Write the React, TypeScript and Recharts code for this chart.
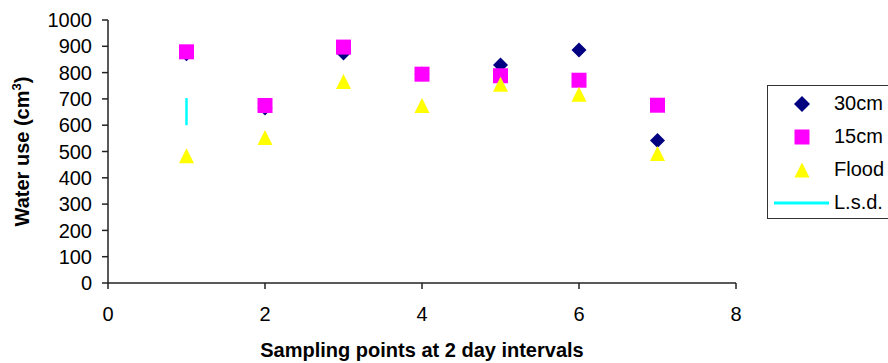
import React from 'react';
import { ScatterChart, Scatter, XAxis, YAxis } from 'recharts';

const sampling = [1, 2, 3, 4, 5, 6, 7];
const use30cm = [872, 665, 875, 795, 829, 886, 542];
const use15cm = [879, 675, 897, 794, 788, 771, 676];
const useFlood = [484, 553, 766, 675, 756, 718, 492];
const lsdX = [1, 1];
const lsdY = [600, 703];
const xTicks = [0, 2, 4, 6, 8];
const yTicks = [0, 100, 200, 300, 400, 500, 600, 700, 800, 900, 1000];
const seriesNames = ['30cm', '15cm', 'Flood', 'L.s.d.'];

const NAVY = '#000080';
const MAGENTA = '#FF00FF';
const YELLOW = '#FFFF00';
const CYAN = '#00FFFF';
const FONT = '"Liberation Sans", Arial, sans-serif';

const toPts = (ys: number[]) => sampling.map((x, i) => ({ x, y: ys[i] }));
const lsdPts = lsdX.map((x, i) => ({ x, y: lsdY[i] }));

const H = 7.5;
const Diamond = (p: any) => (
  <polygon
    points={`${p.cx},${p.cy - H} ${p.cx + H},${p.cy} ${p.cx},${p.cy + H} ${p.cx - H},${p.cy}`}
    fill={NAVY}
  />
);
const Square = (p: any) => (
  <rect x={p.cx - H} y={p.cy - H} width={2 * H} height={2 * H} fill={MAGENTA} />
);
const Triangle = (p: any) => (
  <polygon
    points={`${p.cx},${p.cy - H} ${p.cx + H},${p.cy + H} ${p.cx - H},${p.cy + H}`}
    fill={YELLOW}
  />
);
const NoShape = () => <g />;

const XTitle = (props: any) => {
  const vb = props.viewBox;
  return (
    <text
      x={vb.x + vb.width / 2}
      y={vb.y + 74}
      textAnchor="middle"
      fontFamily={FONT}
      fontSize={20}
      fontWeight="bold"
      fill="#000"
    >
      Sampling points at 2 day intervals
    </text>
  );
};

const YTitle = (props: any) => {
  const vb = props.viewBox;
  const cx = 29;
  const cy = vb.y + vb.height / 2;
  return (
    <text
      x={cx}
      y={cy}
      transform={`rotate(-90, ${cx}, ${cy})`}
      textAnchor="middle"
      fontFamily={FONT}
      fontSize={20}
      fontWeight="bold"
      fill="#000"
    >
      Water use (cm
      <tspan dy={-8} fontSize={13}>3</tspan>
      <tspan dy={8}>)</tspan>
    </text>
  );
};

const markerFor = (name: string) => {
  if (name === '30cm')
    return <polygon points="28,9 36,17 28,25 20,17" fill={NAVY} />;
  if (name === '15cm') return <rect x={20.5} y={9.5} width={15} height={15} fill={MAGENTA} />;
  if (name === 'Flood') return <polygon points="28,9.5 35.5,24.5 20.5,24.5" fill={YELLOW} />;
  return <line x1={0} y1={17} x2={55} y2={17} stroke={CYAN} strokeWidth={3} />;
};

const LegendBox = () => (
  <div
    style={{
      position: 'absolute',
      left: 767,
      top: 85,
      width: 130,
      height: 131,
      border: '1px solid #333',
      paddingTop: 1,
      boxSizing: 'content-box',
      background: '#fff',
      fontFamily: FONT,
      fontSize: 20,
    }}
  >
    {seriesNames.map((n) => (
      <div key={n} style={{ display: 'flex', alignItems: 'center', height: 33 }}>
        <svg width={60} height={33} style={{ marginLeft: 6, display: 'block' }}>
          {markerFor(n)}
        </svg>
        <span style={{ color: '#000', lineHeight: '33px' }}>{n}</span>
      </div>
    ))}
  </div>
);

export default function App() {
  return (
    <div
      style={{
        position: 'absolute',
        left: 0,
        top: 0,
        width: 888,
        height: 363,
        overflow: 'hidden',
        background: '#fff',
      }}
    >
      <ScatterChart
        width={888}
        height={363}
        margin={{ top: 20, right: 152, bottom: 0, left: 0 }}
      >
        <XAxis
          dataKey="x"
          type="number"
          domain={[0, 8]}
          ticks={xTicks}
          interval={0}
          tickSize={6}
          tickMargin={18}
          height={80}
          axisLine={{ stroke: '#222', strokeWidth: 1.5 }}
          tickLine={{ stroke: '#222', strokeWidth: 1.5 }}
          tick={{ fill: '#000', fontSize: 20, fontFamily: FONT }}
          label={<XTitle />}
        />
        <YAxis
          dataKey="y"
          type="number"
          domain={[0, 1000]}
          ticks={yTicks}
          interval={0}
          tickSize={6}
          tickMargin={10}
          width={108}
          axisLine={{ stroke: '#222', strokeWidth: 1.5 }}
          tickLine={{ stroke: '#222', strokeWidth: 1.5 }}
          tick={{ fill: '#000', fontSize: 20, fontFamily: FONT }}
          label={<YTitle />}
        />
        <XAxis
          xAxisId="top"
          orientation="top"
          type="number"
          domain={[0, 8]}
          height={0}
          tick={false}
          tickLine={false}
          axisLine={{ stroke: '#808080', strokeWidth: 2 }}
        />
        <YAxis
          yAxisId="right"
          orientation="right"
          type="number"
          domain={[0, 1000]}
          width={0}
          tick={false}
          tickLine={false}
          axisLine={{ stroke: '#808080', strokeWidth: 2 }}
        />
        <Scatter name="30cm" data={toPts(use30cm)} shape={Diamond} isAnimationActive={false} />
        <Scatter name="15cm" data={toPts(use15cm)} shape={Square} isAnimationActive={false} />
        <Scatter name="Flood" data={toPts(useFlood)} shape={Triangle} isAnimationActive={false} />
        <Scatter
          name="L.s.d."
          data={lsdPts}
          shape={NoShape}
          line={{ stroke: CYAN, strokeWidth: 2.5 }}
          lineType="joint"
          isAnimationActive={false}
        />
      </ScatterChart>
      <LegendBox />
    </div>
  );
}
